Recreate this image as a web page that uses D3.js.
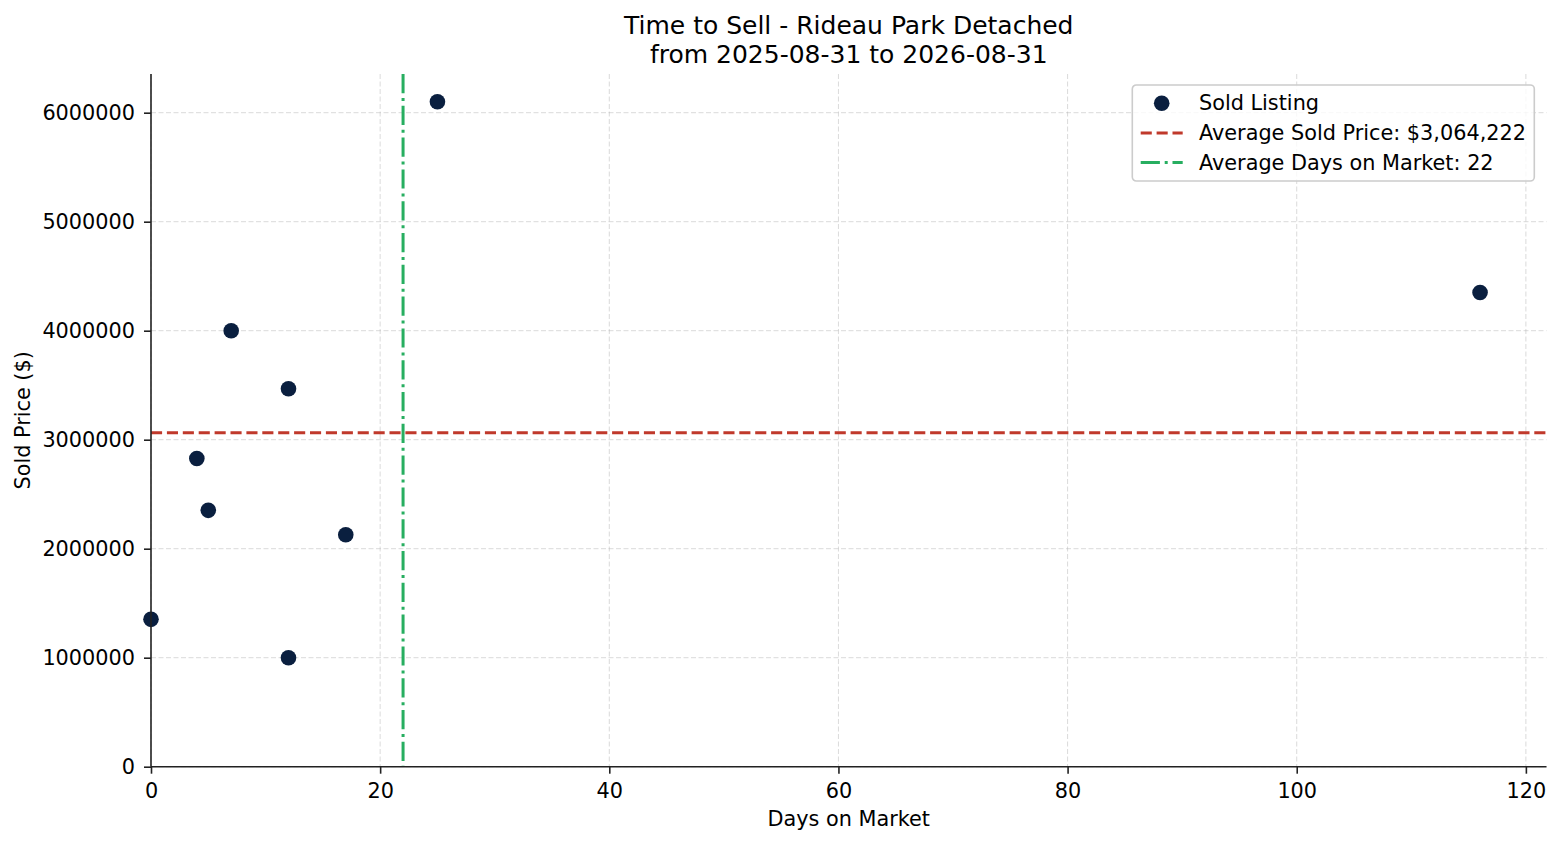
<!DOCTYPE html>
<html lang="en">
<head>
  <meta charset="UTF-8">
  <title>Time to Sell - Rideau Park Detached</title>
  <script src="https://d3js.org/d3.v7.min.js"></script>
  <style>
    body
    {
      margin: 0;
      background: #ffffff;
    }

    svg
    {
      font-family: "DejaVu Sans", sans-serif;
      display: block;
    }

    .tick text
    {
      font-size: 20.8px;
      fill: #000;
    }
  </style>
</head>
<body>
  <svg id="chart" width="1560" height="845"></svg>
  <script>
    // sold listings
    const daysOnMarket = [0, 4, 5, 7, 12, 12, 17, 25, 116];
    const soldPrices = [1352000, 2828000, 2352000, 4000000, 3468000, 1000000, 2128000, 6100000, 4350000];

    const titleLines = ["Time to Sell - Rideau Park Detached", "from 2025-08-31 to 2026-08-31"];
    const xLabel = "Days on Market";
    const yLabel = "Sold Price ($)";
    const xTicks = [0, 20, 40, 60, 80, 100, 120];
    const yTicks = [0, 1000000, 2000000, 3000000, 4000000, 5000000, 6000000];

    const width = 1560;
    const height = 845;
    const margin = { top: 74, right: 13.5, bottom: 78.3, left: 151 };

    const navy = "#0a1f3f";
    const red = "#c0392b";
    const green = "#27ae60";

    const svg = d3.select("#chart");

    const avgPrice = d3.mean(soldPrices);
    const avgDays = d3.mean(daysOnMarket);

    // matplotlib-like autoscale: 5% margin on the data range, lower bound pinned at 0
    const xMax = d3.max(daysOnMarket);
    const xMin = d3.min(daysOnMarket);
    const yMax = d3.max(soldPrices);
    const yMin = d3.min(soldPrices);

    const x = d3.scaleLinear()
      .domain([0, xMax + 0.05 * (xMax - xMin)])
      .range([margin.left, width - margin.right]);

    const y = d3.scaleLinear()
      .domain([0, yMax + 0.05 * (yMax - yMin)])
      .range([height - margin.bottom, margin.top]);

    const x0 = x.range()[0], x1 = x.range()[1];
    const yBottom = y.range()[0], yTop = y.range()[1];

    //grid
    const grid = svg.append("g")
      .attr("stroke", "#b0b0b0")
      .attr("stroke-opacity", 0.6)
      .attr("stroke-width", 0.8)
      .attr("stroke-dasharray", "5,2.5");

    grid.selectAll("line.gx")
      .data(xTicks)
      .join("line")
      .attr("class", "gx")
      .attr("x1", d => x(d)).attr("x2", d => x(d))
      .attr("y1", yTop).attr("y2", yBottom);

    grid.selectAll("line.gy")
      .data(yTicks)
      .join("line")
      .attr("class", "gy")
      .attr("x1", x0).attr("x2", x1)
      .attr("y1", d => y(d)).attr("y2", d => y(d));

    //points
    svg.append("g")
      .selectAll("circle")
      .data(daysOnMarket.map((d, i) => ({ days: d, price: soldPrices[i] })))
      .join("circle")
      .attr("cx", d => x(d.days))
      .attr("cy", d => y(d.price))
      .attr("r", 7.8)
      .attr("fill", navy);

    //average lines
    svg.append("line")
      .attr("x1", x0).attr("x2", x1)
      .attr("y1", y(avgPrice)).attr("y2", y(avgPrice))
      .attr("stroke", red)
      .attr("stroke-width", 3)
      .attr("stroke-dasharray", "11.1,4.8");

    svg.append("line")
      .attr("x1", x(avgDays)).attr("x2", x(avgDays))
      .attr("y1", yTop).attr("y2", yBottom)
      .attr("stroke", green)
      .attr("stroke-width", 3)
      .attr("stroke-dasharray", "19.2,4.8,3,4.8");

    //axes
    const xAxis = svg.append("g")
      .attr("transform", `translate(0,${yBottom})`)
      .call(d3.axisBottom(x).tickValues(xTicks).tickFormat(d3.format("d")).tickSize(7).tickPadding(10).tickSizeOuter(0));

    const yAxis = svg.append("g")
      .attr("transform", `translate(${x0},0)`)
      .call(d3.axisLeft(y).tickValues(yTicks).tickFormat(d3.format("d")).tickSize(7).tickPadding(9).tickSizeOuter(0));

    [xAxis, yAxis].forEach(a => {
      a.attr("font-family", null).attr("font-size", null);
      a.select(".domain").attr("stroke", "#222").attr("stroke-width", 1.6);
      a.selectAll(".tick line").attr("stroke", "#222").attr("stroke-width", 1.6);
    });

    // keep the spines running to the edges of the plot area
    yAxis.select(".domain").attr("d", `M0,${yTop}V${yBottom}`);
    xAxis.select(".domain").attr("d", `M${x0},0H${x1}`);

    //labels
    const cx = (x0 + x1) / 2;

    svg.append("text")
      .attr("x", cx)
      .attr("text-anchor", "middle")
      .attr("font-size", "25px")
      .selectAll("tspan")
      .data(titleLines)
      .join("tspan")
      .attr("x", cx)
      .attr("y", (d, i) => 34.3 + i * 28.6)
      .text(d => d);

    svg.append("text")
      .attr("x", cx)
      .attr("y", 825.5)
      .attr("text-anchor", "middle")
      .attr("font-size", "20.8px")
      .text(xLabel);

    svg.append("text")
      .attr("transform", `translate(30,${(yTop + yBottom) / 2}) rotate(-90)`)
      .attr("text-anchor", "middle")
      .attr("font-size", "20.8px")
      .text(yLabel);

    //legend
    const legendItems = [
      { type: "marker", label: "Sold Listing" },
      { type: "line", label: `Average Sold Price: $${d3.format(",.0f")(avgPrice)}`, color: red, dash: "11.1,4.8" },
      { type: "line", label: `Average Days on Market: ${d3.format(".0f")(avgDays)}`, color: green, dash: "19.2,4.8,3,4.8" }
    ];

    const legend = svg.append("g").attr("transform", "translate(1132.3,85)");

    legend.append("rect")
      .attr("width", 402)
      .attr("height", 96)
      .attr("rx", 4)
      .attr("fill", "#fff")
      .attr("fill-opacity", 0.8)
      .attr("stroke", "#cccccc")
      .attr("stroke-width", 1.6);

    const row = legend.selectAll("g.item")
      .data(legendItems)
      .join("g")
      .attr("class", "item")
      .attr("transform", (d, i) => `translate(0,${18.3 + i * 29.6})`);

    row.filter(d => d.type === "marker")
      .append("circle")
      .attr("cx", 29.4)
      .attr("cy", 0)
      .attr("r", 7.8)
      .attr("fill", navy);

    row.filter(d => d.type === "line")
      .append("line")
      .attr("x1", 8.4).attr("x2", 50.4)
      .attr("y1", 0).attr("y2", 0)
      .attr("stroke", d => d.color)
      .attr("stroke-width", 3)
      .attr("stroke-dasharray", d => d.dash);

    row.append("text")
      .attr("x", 66.7)
      .attr("y", 7)
      .attr("font-size", "20.8px")
      .text(d => d.label);
  </script>
</body>
</html>
